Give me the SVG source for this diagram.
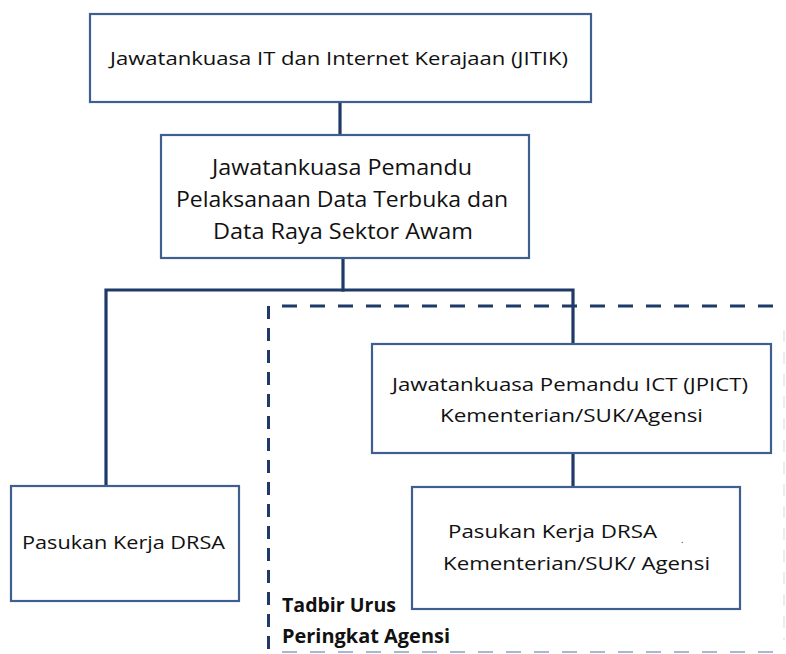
<svg xmlns="http://www.w3.org/2000/svg" width="786" height="654" viewBox="0 0 786 654">
<style>
.box{fill:#ffffff;stroke:#3E5F90;stroke-width:2.2}
.con{fill:none;stroke:#1F3A68;stroke-width:3.2;stroke-linecap:square}
.dh{fill:none;stroke:#1F3A68;stroke-width:3;stroke-dasharray:15 13}
.dv{fill:none;stroke:#1F3A68;stroke-width:3;stroke-dasharray:13 9}
.faint{fill:none;stroke:#A9B8CF;stroke-width:2;stroke-dasharray:15 13}
.t{font-family:"Open Sans","Noto Sans","Liberation Sans",sans-serif;fill:#111111}
.b{font-family:"Open Sans","Noto Sans","Liberation Sans",sans-serif;font-weight:bold;fill:#111111;font-size:20px}
</style>
<rect width="786" height="654" fill="#ffffff"/>
<g id="connectors">
<line class="con" x1="340" y1="102" x2="340" y2="135"/>
<line class="con" x1="343" y1="258" x2="343" y2="290"/>
<polyline class="con" points="106,486 106,290 573,290 573,344"/>
<line class="con" x1="573" y1="453" x2="573" y2="487"/>
</g>
<g id="agency-boundary">
<line class="dh" x1="282" y1="306" x2="786" y2="306"/>
<line class="dv" x1="268.5" y1="306" x2="268.5" y2="654"/>
<line class="faint" x1="282" y1="652" x2="786" y2="652"/>
<line x1="784" y1="330" x2="784" y2="640" stroke="#E3E8EF" stroke-width="1.5" stroke-dasharray="12 10"/>
<text class="b" x="282" y="612" textLength="114" lengthAdjust="spacingAndGlyphs">Tadbir Urus</text>
<text class="b" x="282" y="643" textLength="168" lengthAdjust="spacingAndGlyphs">Peringkat Agensi</text>
</g>
<g id="node-jitik">
<rect class="box" x="90" y="14" width="501" height="88"/>
<text class="t" x="110" y="65" font-size="19" textLength="458" lengthAdjust="spacingAndGlyphs">Jawatankuasa IT dan Internet Kerajaan (JITIK)</text>
</g>
<g id="node-pemandu">
<rect class="box" x="161" y="135" width="368" height="123"/>
<text class="t" x="342" y="175" font-size="22" text-anchor="middle" textLength="260" lengthAdjust="spacingAndGlyphs">Jawatankuasa Pemandu</text>
<text class="t" x="342" y="207" font-size="22" text-anchor="middle" textLength="332" lengthAdjust="spacingAndGlyphs">Pelaksanaan Data Terbuka dan</text>
<text class="t" x="343" y="239" font-size="22" text-anchor="middle" textLength="260" lengthAdjust="spacingAndGlyphs">Data Raya Sektor Awam</text>
</g>
<g id="node-drsa">
<rect class="box" x="11" y="486" width="228" height="115"/>
<text class="t" x="22" y="549" font-size="19" textLength="203" lengthAdjust="spacingAndGlyphs">Pasukan Kerja DRSA</text>
</g>
<g id="node-jpict">
<rect class="box" x="372" y="344" width="399" height="109"/>
<text class="t" x="392" y="391" font-size="19" textLength="356" lengthAdjust="spacingAndGlyphs">Jawatankuasa Pemandu ICT (JPICT)</text>
<text class="t" x="440" y="422" font-size="19" textLength="263" lengthAdjust="spacingAndGlyphs">Kementerian/SUK/Agensi</text>
</g>
<g id="node-drsa-agensi">
<rect class="box" x="412" y="487" width="328" height="122"/>
<text class="t" x="448" y="538" font-size="19" textLength="209" lengthAdjust="spacingAndGlyphs">Pasukan Kerja DRSA</text>
<text class="t" x="681" y="543" font-size="9">.</text>
<text class="t" x="443" y="570" font-size="19" textLength="267" lengthAdjust="spacingAndGlyphs">Kementerian/SUK/ Agensi</text>
</g>
</svg>
